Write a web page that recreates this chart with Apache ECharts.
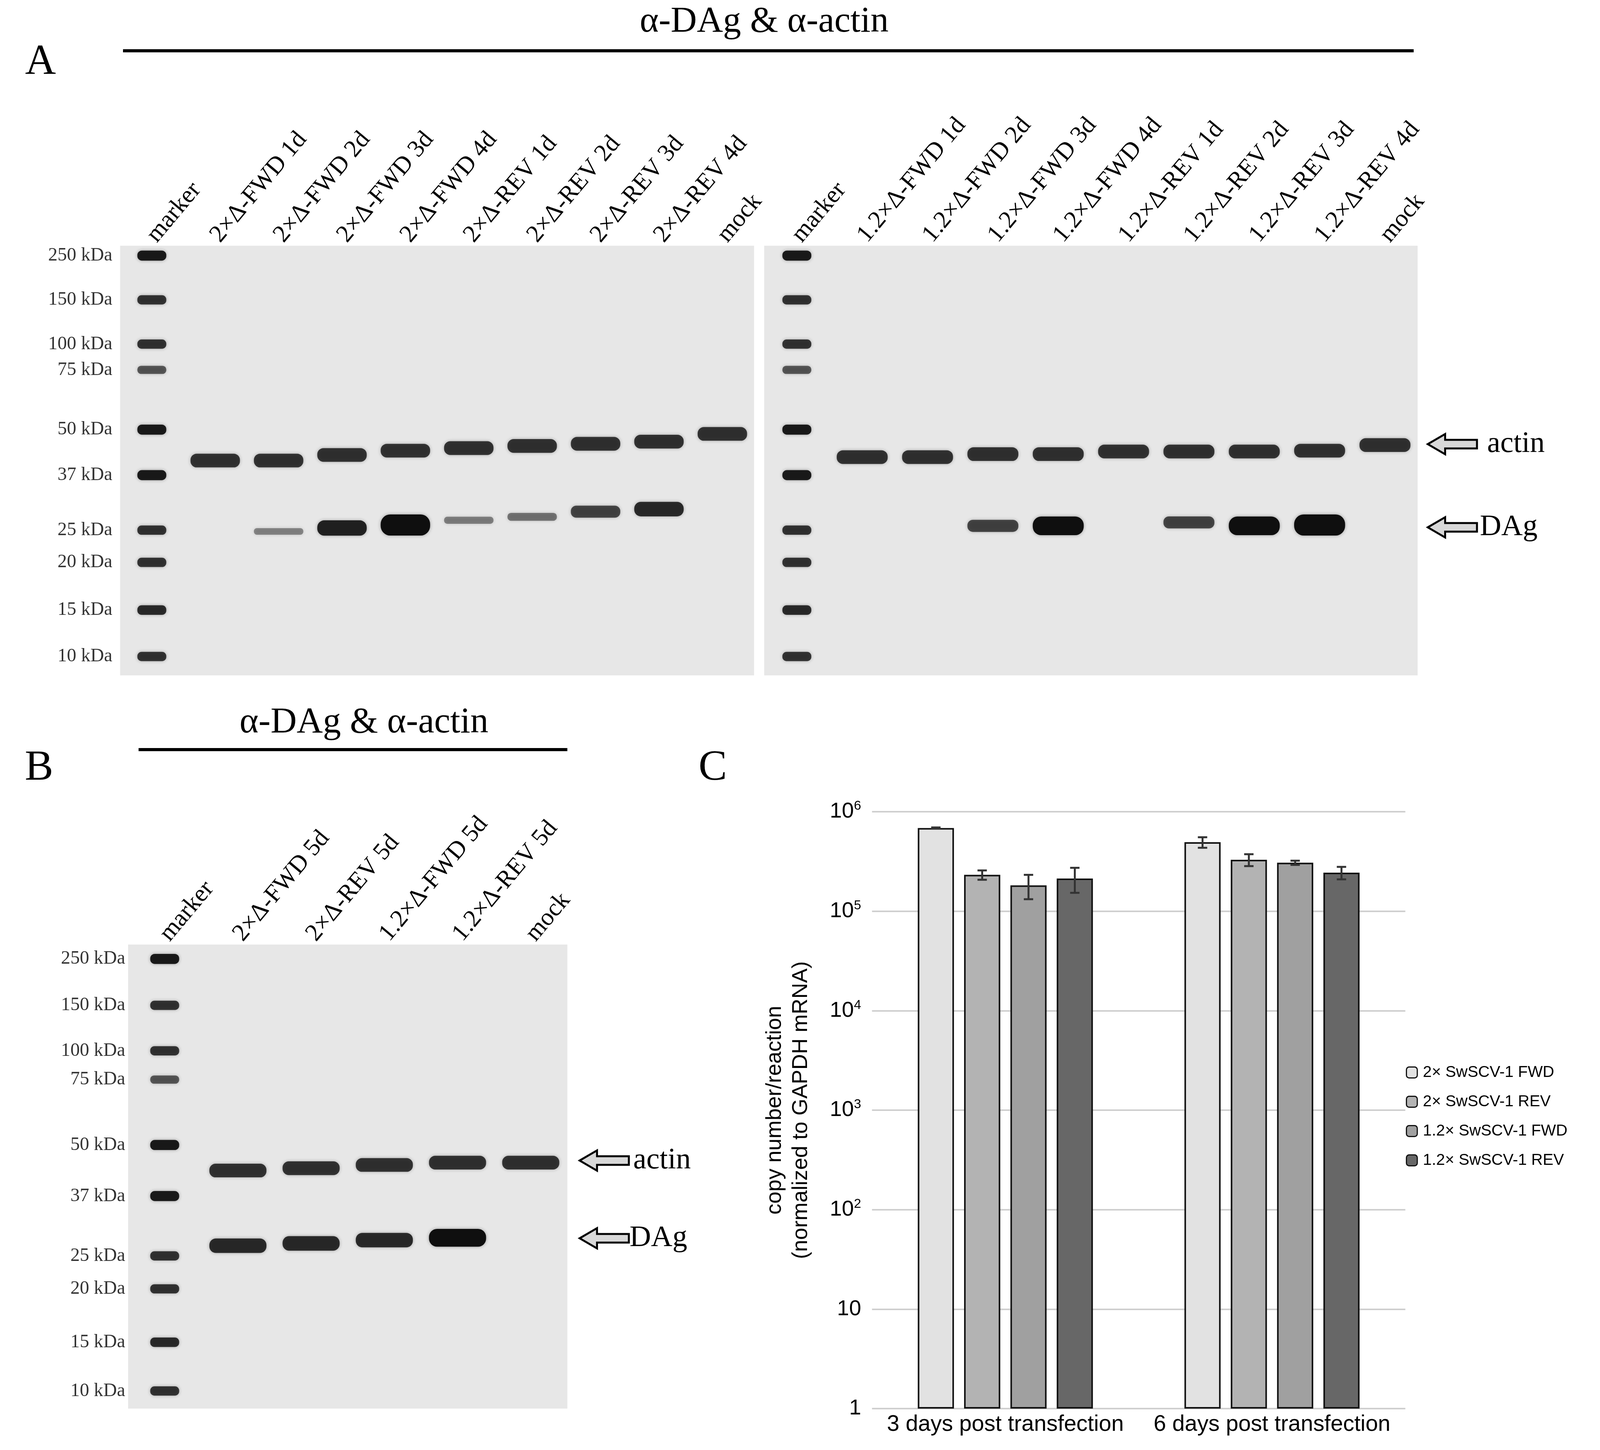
<!DOCTYPE html>
<html><head><meta charset="utf-8">
<script src="https://cdn.jsdelivr.net/npm/echarts@6/dist/echarts.min.js"></script>
<style>html,body{margin:0;padding:0;background:#fff;overflow:hidden}#c{width:100vw;height:100vh}</style>
</head><body><div id="c"></div>
<script>
// ---------- DATA ----------
const lanesA1 = ['marker','2×Δ-FWD 1d','2×Δ-FWD 2d','2×Δ-FWD 3d','2×Δ-FWD 4d','2×Δ-REV 1d','2×Δ-REV 2d','2×Δ-REV 3d','2×Δ-REV 4d','mock'];
const lanesA2 = ['marker','1.2×Δ-FWD 1d','1.2×Δ-FWD 2d','1.2×Δ-FWD 3d','1.2×Δ-FWD 4d','1.2×Δ-REV 1d','1.2×Δ-REV 2d','1.2×Δ-REV 3d','1.2×Δ-REV 4d','mock'];
const lanesB = ['marker','2×Δ-FWD 5d','2×Δ-REV 5d','1.2×Δ-FWD 5d','1.2×Δ-REV 5d','mock'];
const ladderLabels = ['250 kDa','150 kDa','100 kDa','75 kDa','50 kDa','37 kDa','25 kDa','20 kDa','15 kDa','10 kDa'];
const ladderMobA = [0.023,0.126,0.229,0.289,0.428,0.534,0.662,0.737,0.848,0.956];
const ladderMobB = [0.031,0.131,0.229,0.291,0.432,0.542,0.671,0.742,0.857,0.962];
const ladderInt = [0.7,0.55,0.55,0.35,0.7,0.7,0.55,0.55,0.6,0.55];
// bands: [lane, mobility, intensity]
const bandsA1 = [[1,0.500,0.55],[2,0.500,0.55],[3,0.487,0.55],[4,0.477,0.55],[5,0.471,0.55],[6,0.466,0.55],[7,0.461,0.55],[8,0.456,0.55],[9,0.438,0.55],
  [2,0.665,0.12],[3,0.657,0.65],[4,0.650,1.0],[5,0.639,0.15],[6,0.631,0.2],[7,0.619,0.45],[8,0.613,0.6]];
const bandsA2 = [[1,0.492,0.55],[2,0.492,0.55],[3,0.485,0.55],[4,0.485,0.55],[5,0.479,0.55],[6,0.479,0.55],[7,0.479,0.55],[8,0.477,0.55],[9,0.464,0.55],
  [3,0.652,0.45],[4,0.652,0.85],[6,0.644,0.45],[7,0.652,0.85],[8,0.650,1.0]];
const bandsB = [[1,0.487,0.55],[2,0.482,0.55],[3,0.475,0.55],[4,0.470,0.55],[5,0.470,0.55],
  [1,0.649,0.6],[2,0.644,0.6],[3,0.637,0.6],[4,0.632,0.8]];
const cCategories = ['3 days post transfection','6 days post transfection'];
const cSeriesNames = ['2× SwSCV-1 FWD','2× SwSCV-1 REV','1.2× SwSCV-1 FWD','1.2× SwSCV-1 REV'];
const cValues = [[685000,494000],[232000,329000],[182000,307000],[213000,244000]];
const cErrors = [[10000,60000],[25000,45000],[50000,15000],[60000,35000]];
const cColors = ['#e2e2e2','#b3b3b3','#a0a0a0','#676767'];

// ---------- RENDER ----------
const chart = echarts.init(document.getElementById('c'));
const W = chart.getWidth(), H = chart.getHeight();
const sx = W/4422, sy = H/3712, sf = Math.min(sx, sy);
const X = v => v*sx, Y = v => v*sy, F = v => v*sf;
const serif = 'Liberation Serif';
const sans = 'Liberation Sans';

function bandRender(params, api){
  const lane = api.value(0), mob = api.value(1), I = api.value(2);
  const p = api.coord([lane, mob]);
  const bw = api.size([1,0])[0];
  const w = lane === 0 ? X(80) : bw*0.78;
  const h = Y(lane === 0 ? 16 + 14*I : 12 + 42*I);
  return {type:'rect', shape:{x:p[0]-w/2, y:p[1]-h/2, width:w, height:h, r:h/2.2},
    style:{fill:'rgba(15,15,15,'+(0.3+0.7*Math.min(1,I*1.3))+')', shadowBlur:8, shadowColor:'rgba(0,0,0,0.35)'}};
}
function ladderData(mob){ return mob.map((m,i)=>[0,m,ladderInt[i]]); }

const grids = [
  {left:X(332), top:Y(629), width:X(1752), height:Y(1100), show:true, backgroundColor:'#e7e7e7', borderWidth:0},
  {left:X(2112), top:Y(629), width:X(1806), height:Y(1100), show:true, backgroundColor:'#e7e7e7', borderWidth:0},
  {left:X(354), top:Y(2418), width:X(1214), height:Y(1188), show:true, backgroundColor:'#e7e7e7', borderWidth:0},
  {left:X(2410), top:Y(2078), width:X(1474), height:Y(1528)}
];
function laneAxis(gi, lanes){
  return {type:'category', gridIndex:gi, data:lanes, position:'top', axisLine:{show:false}, axisTick:{show:false},
    axisLabel:{rotate:50, fontFamily:serif, fontSize:F(68), color:'#000', margin:F(18), interval:0}};
}
function mobAxis(gi){ return {type:'value', gridIndex:gi, min:0, max:1, inverse:true, show:false}; }

const series = [];
[[0,bandsA1,ladderMobA],[1,bandsA2,ladderMobA],[2,bandsB,ladderMobB]].forEach(([gi,b,lm])=>{
  series.push({type:'custom', xAxisIndex:gi, yAxisIndex:gi, renderItem:bandRender, data:ladderData(lm).concat(b), silent:true});
});
[[0,ladderMobA],[2,ladderMobB]].forEach(([gi,lm])=>{
  series.push({type:'scatter', xAxisIndex:gi, yAxisIndex:gi, symbolSize:2, itemStyle:{color:'rgba(0,0,0,0)'}, silent:true, z:10,
    data:lm.map((m,i)=>({value:[0,m], label:{show:true, formatter:ladderLabels[i]}})),
    label:{show:true, position:'left', distance:X(108), fontFamily:serif, fontSize:F(52), color:'#000'},
    labelLayout:{hideOverlap:false}});
});
const bw = X(100), gapPx = X(28);
cSeriesNames.forEach((n,k)=>{
  series.push({type:'bar', name:n, xAxisIndex:3, yAxisIndex:3, data:cValues[k], barWidth:bw, barGap:'28%',
    itemStyle:{color:cColors[k], borderColor:'#111', borderWidth:4}});
});
cSeriesNames.forEach((n,k)=>{
  series.push({type:'custom', xAxisIndex:3, yAxisIndex:3, silent:true, z:5,
    data:cValues[k].map((v,i)=>[i,v,cErrors[k][i]]),
    renderItem:function(params, api){
      const i=api.value(0), v=api.value(1), e=api.value(2);
      const x = api.coord([i,v])[0] + (k-1.5)*(bw+gapPx);
      const y1 = api.coord([i,v+e])[1], y2 = api.coord([i,v-e])[1];
      const st={stroke:'#333', lineWidth:5};
      return {type:'group', children:[
        {type:'line', shape:{x1:x,y1:y1,x2:x,y2:y2}, style:st},
        {type:'line', shape:{x1:x-12,y1:y1,x2:x+12,y2:y1}, style:st},
        {type:'line', shape:{x1:x-12,y1:y2,x2:x+12,y2:y2}, style:st}]};
    }});
});

function arrow(x0, y, len){
  const hh=Y(26), sh=Y(11), hl=X(48);
  x0=X(x0); y=Y(y); len=X(len);
  return {type:'polygon', shape:{points:[[x0,y],[x0+hl,y-hh],[x0+hl,y-sh],[x0+len,y-sh],[x0+len,y+sh],[x0+hl,y+sh],[x0+hl,y+hh]]},
    style:{fill:'#d8d8d8', stroke:'#000', lineWidth:5}};
}
function txt(x,y,t,fs,align,ff){ return {type:'text', x:X(x), y:Y(y), style:{text:t, font:F(fs)+'px "'+(ff||serif)+'"', fill:'#000', textAlign:align||'center', textVerticalAlign:'middle'}}; }
function hline(x,y,w,h){ return {type:'rect', shape:{x:X(x),y:Y(y),width:X(w),height:Y(h)}, style:{fill:'#000'}}; }

const graphic = [
  txt(2112,57,'α-DAg & α-actin',100),
  hline(340,126,3567,8),
  txt(1006,1851,'α-DAg & α-actin',100),
  hline(383,1915,1185,8),
  txt(112,160,'A',118), txt(108,1967,'B',118), txt(1970,1967,'C',118),
  arrow(3946,1137,136), txt(4110,1137,'actin',82,'left'),
  arrow(3946,1350,136), txt(4090,1350,'DAg',82,'left'),
  arrow(1602,2971,136), txt(1750,2971,'actin',82,'left'),
  arrow(1602,3170,136), txt(1740,3170,'DAg',82,'left')
];

chart.setOption({
  animation:false,
  grid:grids,
  xAxis:[laneAxis(0,lanesA1), laneAxis(1,lanesA2), laneAxis(2,lanesB),
    {type:'category', gridIndex:3, data:cCategories, axisLine:{show:false}, axisTick:{show:false},
     axisLabel:{fontFamily:sans, fontSize:F(62), color:'#000', margin:F(14), interval:0}}],
  yAxis:[mobAxis(0), mobAxis(1), mobAxis(2),
    {type:'log', gridIndex:3, logBase:10, min:1, max:1e6,
     axisLine:{show:false}, axisTick:{show:false},
     splitLine:{lineStyle:{color:'#cfcfcf', width:4}},
     name:'copy number/reaction\n(normalized to GAPDH mRNA)', nameLocation:'middle', nameGap:X(160),
     nameTextStyle:{fontFamily:sans, fontSize:F(60), color:'#000', lineHeight:F(72)},
     axisLabel:{fontFamily:sans, color:'#000', margin:X(30),
       formatter:function(v){ const e=Math.round(Math.log10(v)); return e<2 ? '{b|'+Math.round(v)+'}' : '{b|10}{s|'+e+'}'; },
       rich:{b:{fontSize:F(60), fontFamily:sans, color:'#000'}, s:{fontSize:F(36), fontFamily:sans, color:'#000', verticalAlign:'top', padding:[0,0,F(30),0]}}}}],
  legend:{orient:'vertical', left:X(3880), top:Y(2720), itemWidth:F(30), itemHeight:F(30), itemGap:Y(34),
    textStyle:{fontFamily:sans, fontSize:F(44), color:'#000', padding:[0,0,0,F(10)]}, data:cSeriesNames,
    itemStyle:{borderColor:'#111', borderWidth:3}},
  series:series,
  graphic:graphic
});
</script></body></html>
